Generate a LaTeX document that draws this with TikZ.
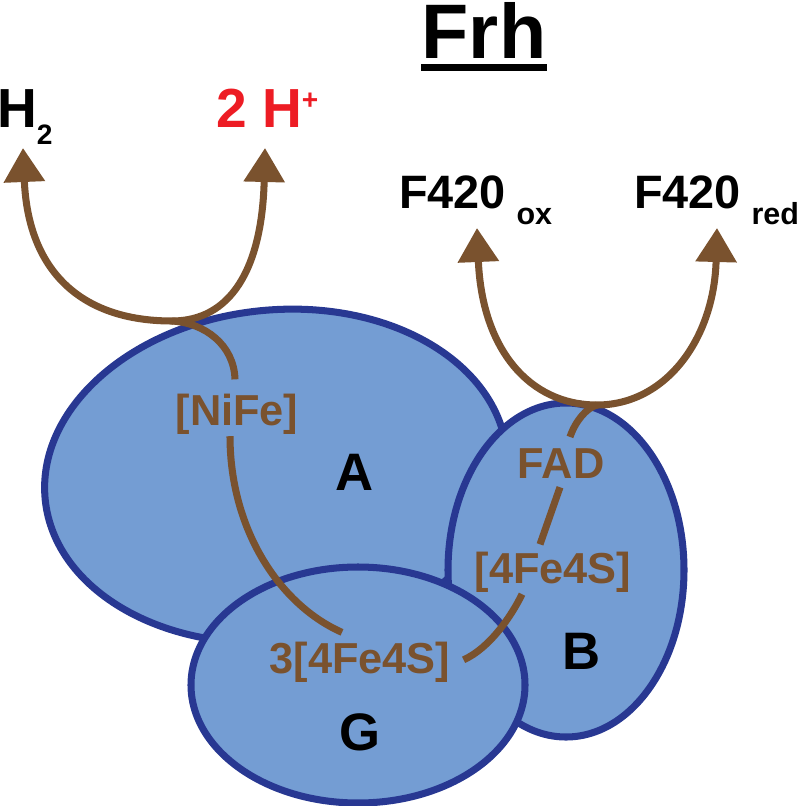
\documentclass[tikz,border=0pt]{standalone}
\usepackage{fontspec}
\setmainfont{Liberation Sans}
\usetikzlibrary{arrows.meta}

\definecolor{subfill}{RGB}{116,157,211}
\definecolor{subline}{RGB}{40,56,146}
\definecolor{etbrown}{RGB}{122,82,46}
\definecolor{protred}{RGB}{237,28,36}

\newcommand{\chsub}[2][-15pt]{\raisebox{#1}{\fontsize{24}{24}\selectfont #2}}
\newcommand{\chsup}[1]{\raisebox{15pt}{\fontsize{24}{24}\selectfont #1}}

\tikzset{
	subunit/.style={fill=subfill, draw=subline, line width=6pt},
	cofactor/.style={text=etbrown, font=\fontsize{37}{37}\selectfont\bfseries, inner sep=0pt, anchor=base},
	sublabel/.style={font=\fontsize{45}{45}\selectfont\bfseries, inner sep=0pt, anchor=base},
	species/.style={font=\fontsize{40}{40}\selectfont\bfseries, inner sep=0pt, anchor=base west},
	etpath/.style={draw=etbrown, line width=6pt},
	etarrow/.style={etpath, {Triangle[length=29pt,width=34pt]}-{Triangle[length=29pt,width=34pt]}},
}

\begin{document}
\begin{tikzpicture}
	\pgfsetxvec{\pgfpoint{0.03cm}{0.0cm}}
	\pgfsetyvec{\pgfpoint{0.0cm}{-0.03cm}}
	\useasboundingbox (0,0) rectangle (800,806);

	% subunits
	\filldraw[subunit] (276,476) ellipse [x radius=232, y radius=166, rotate=6];
	\filldraw[subunit] (566,570) ellipse [x radius=118, y radius=167];
	\filldraw[subunit] (358,685) ellipse [x radius=167, y radius=118];

	\node[sublabel] at (355,490) (labA) {A};
	\node[sublabel] at (582,669) (labB) {B};
	\node[sublabel] at (360,750) (labG) {G};

	% cofactors
	\node[cofactor] at (237,425) (nife) {[NiFe]};
	\node[cofactor] at (561,478) (fad) {FAD};
	\node[cofactor] at (553,583) (fesB) {[4Fe4S]};
	\node[cofactor] at (360,673) (fesG) {3[4Fe4S]};

	% substrates
	\node[font=\fontsize{66}{66}\selectfont\bfseries, inner sep=0pt, anchor=base] at (484,58) (frh) {Frh};
	\draw[line width=6.5pt] ([yshift=-8pt]frh.base west) -- ([yshift=-8pt]frh.base east);
	\node[species, font=\fontsize{47}{47}\selectfont\bfseries] at (-3,127) (h2) {H\chsub[-15pt]{2}};
	\node[species, font=\fontsize{47}{47}\selectfont\bfseries, text=protred] at (216,127) (hplus) {2 H\chsup{+}};
	\node[species] at (399,208) (fox) {F420\kern9pt\chsub[-14.5pt]{\fontsize{26}{26}\selectfont ox}};
	\node[species] at (634,208) (fred) {F420\kern9pt\chsub[-14.5pt]{\fontsize{26}{26}\selectfont red}};

	\coordinate (tipH2) at (23,148);
	\coordinate (tipHp) at (265,148);
	\coordinate (hubA) at (172,321);
	\coordinate (tipFox) at (477,228);
	\coordinate (tipFred) at (717,228);
	\coordinate (hubB) at (597,405);

	% electron path
	\draw[etarrow] (tipH2) .. controls (28,270) and (80,321) .. (hubA)
		.. controls (230,321) and (262,270) .. (tipHp);
	\draw[etarrow] (tipFox) .. controls (482,350) and (530,405) .. (hubB)
		.. controls (665,405) and (714,340) .. (tipFred);
	\draw[etpath] (hubA) .. controls (205,323) and (234,345) .. ([shift={(-2,-14)}]nife.north);
	\draw[etpath] ([shift={(-7,2)}]nife.south) .. controls (230,530) and (280,605) .. ([shift={(-18,-9)}]fesG.north);
	\draw[etpath] ([shift={(13,-2)}]fesG.east) .. controls (490,648) and (512,615) .. ([shift={(-31,2)}]fesB.south);
	\draw[etpath] ([shift={(-1,9)}]fad.south) -- ([shift={(-13,-7)}]fesB.north);
	\draw[etpath] ([shift={(9,-11)}]fad.north) .. controls (575,422) and (586,408) .. (hubB);
\end{tikzpicture}
\end{document}
